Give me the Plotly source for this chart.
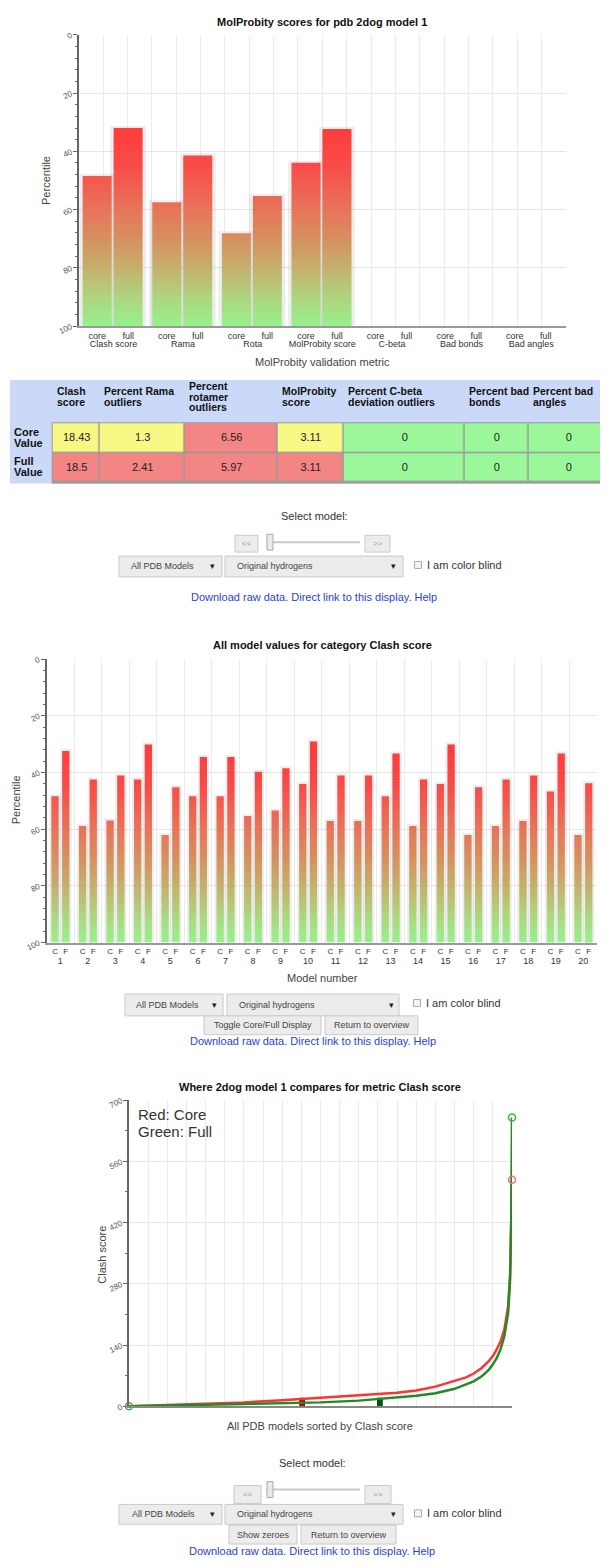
import plotly.graph_objects as go

# The page body has an 8px margin, so the figure is 592x1552 and all layout
# positions below are given in screen pixels and shifted by that margin.
SW, SH = 608, 1568
M = 8
W, H = SW - 2 * M, SH - 2 * M
FONT = "Arial, 'Liberation Sans', sans-serif"


def px(x):
    return (x - M) / W


def py(y):
    return 1 - (y - M) / H


# ---------------- data ----------------
metric_names = ["Clash score", "Rama", "Rota", "MolProbity score", "C-beta", "Bad bonds", "Bad angles"]
core_pct = [48.5, 57.5, 68.1, 43.9, 100, 100, 100]
full_pct = [32.0, 41.4, 55.3, 32.3, 100, 100, 100]

models = [str(i) for i in range(1, 21)]
model_core_pct = [48.4, 58.9, 56.9, 42.5, 62.1, 48.4, 48.4, 55.4, 53.4, 44.1,
                  57.1, 57.1, 48.4, 58.9, 44.1, 62.1, 58.9, 57.1, 46.7, 62.1]
model_full_pct = [32.4, 42.5, 41.1, 30.1, 45.2, 34.5, 34.5, 39.7, 38.5, 29.1,
                  41.1, 41.1, 33.3, 42.5, 30.1, 45.2, 42.5, 41.1, 33.3, 43.8]

table_headers = ["Clash<br>score", "Percent Rama<br>outliers", "Percent<br>rotamer<br>outliers",
                 "MolProbity<br>score", "Percent C-beta<br>deviation outliers", "Percent bad<br>bonds",
                 "Percent bad<br>angles"]
row_labels = ["Core<br>Value", "Full<br>Value"]
core_values = ["18.43", "1.3", "6.56", "3.11", "0", "0", "0"]
full_values = ["18.5", "2.41", "5.97", "3.11", "0", "0", "0"]
core_status = [0, 0, 1, 0, 2, 2, 2]   # 0 = warning (yellow), 1 = bad (red), 2 = good (green)
full_status = [1, 1, 1, 1, 2, 2, 2]

sorted_pct = [0, 5, 10, 20, 30, 40, 50, 60, 65, 70, 75, 80, 85, 88, 90, 92, 94, 95, 96, 97, 98, 99, 99.5, 99.8, 100]
core_sorted = [0, 1.5, 3, 6, 9, 14, 19, 24, 28, 31, 36, 45, 58, 66, 75, 87, 104, 115, 130, 148, 175, 230, 300, 400, 518]
full_sorted = [0, 0.8, 1.5, 3, 5, 7, 9, 13, 17, 20, 24, 30, 40, 50, 57, 68, 84, 96, 110, 130, 160, 215, 290, 420, 660]
marker_pct = [45.2, 65.5]
marker_score = [18.43, 18.5]

# ---------------- styles ----------------
GRAD = [[0.0, "#ff3a3a"], [0.2143, "#f84c48"], [0.4286, "#e8745a"], [0.5714, "#d6905f"],
        [0.7143, "#c4b06c"], [0.8571, "#aed47e"], [1.0, "#96f28c"]]
YELLOW, RED, GREEN = "#f8f884", "#f48585", "#9af79a"
BLUE = "#c9d9f7"
# table geometry (pixels): column widths, header height, row height
col_widths = [43, 47, 85, 93, 66, 121, 64, 79]
header_h, row_h = 44, 30


def grad_segments(centers, vals, step=1.0):
    xs, bases, lens, cols = [], [], [], []
    for c, v in zip(centers, vals):
        t = v
        while t < 100 - 1e-9:
            b = min(t + step, 100)
            xs.append(c)
            bases.append(t)
            lens.append(min(b - t + 0.3, 100 - t))
            cols.append((t + b) / 2)
            t = b
    return xs, bases, lens, cols


def gradient_bars(centers, vals, width, xa, ya, shadow_extra):
    traces = []
    sc = [c for c, v in zip(centers, vals) if v < 100]
    sv = [v for v in vals if v < 100]
    traces.append(go.Bar(x=sc, base=[v - 0.7 for v in sv], y=[100 - v + 0.7 for v in sv],
                         width=width + shadow_extra,
                         marker=dict(color="rgba(0,0,0,0.07)", line=dict(width=0)),
                         xaxis=xa, yaxis=ya, hoverinfo="skip"))
    xs, bases, lens, cols = grad_segments(centers, vals)
    traces.append(go.Bar(x=xs, base=bases, y=lens, width=width,
                         marker=dict(color=cols, colorscale=GRAD, cmin=30, cmax=100, line=dict(width=0)),
                         xaxis=xa, yaxis=ya, hoverinfo="skip"))
    return traces


fig = go.Figure()

# ---------------- top chart ----------------
top_core_x = [2 * g + 0.53 for g in range(len(metric_names))]
top_full_x = [2 * g + 1.42 for g in range(len(metric_names))]
for t in gradient_bars(top_core_x + top_full_x, core_pct + full_pct, 0.83, "x", "y", 0.2):
    fig.add_trace(t)
fig.add_trace(go.Scatter(x=[1], y=[100], mode="markers", marker=dict(opacity=0), xaxis="x4", yaxis="y",
                         hoverinfo="skip"))

# ---------------- middle chart ----------------
mid_core_x = [2 * g + 0.62 for g in range(len(models))]
mid_full_x = [2 * g + 1.40 for g in range(len(models))]
for t in gradient_bars(mid_core_x + mid_full_x, model_core_pct + model_full_pct, 0.52, "x2", "y2", 0.3):
    fig.add_trace(t)
fig.add_trace(go.Scatter(x=[1], y=[100], mode="markers", marker=dict(opacity=0), xaxis="x5", yaxis="y2",
                         hoverinfo="skip"))

# ---------------- bottom chart ----------------
fig.add_trace(go.Scatter(x=sorted_pct, y=core_sorted, mode="lines", line=dict(color="#ff3333", width=2.5),
                         xaxis="x3", yaxis="y3", hoverinfo="skip"))
fig.add_trace(go.Scatter(x=sorted_pct, y=full_sorted, mode="lines", line=dict(color="#238a23", width=2.5),
                         xaxis="x3", yaxis="y3", hoverinfo="skip"))
fig.add_trace(go.Bar(x=marker_pct, y=marker_score, width=1.2,
                     marker=dict(color=["#e00000", "#006000"], line=dict(color="#222", width=1)),
                     xaxis="x3", yaxis="y3", hoverinfo="skip"))
fig.add_trace(go.Scatter(x=[sorted_pct[-1]], y=[core_sorted[-1]], mode="markers",
                         marker=dict(symbol="circle-open", size=7, color="#f07070", line=dict(width=1.5)),
                         xaxis="x3", yaxis="y3", cliponaxis=False, hoverinfo="skip"))
fig.add_trace(go.Scatter(x=[sorted_pct[0], sorted_pct[-1]], y=[full_sorted[0], full_sorted[-1]], mode="markers",
                         marker=dict(symbol="circle-open", size=7, color="#40b040", line=dict(width=1.5)),
                         xaxis="x3", yaxis="y3", cliponaxis=False, hoverinfo="skip"))

# ---------------- table (heatmap on its own axes, units = pixels) ----------------
col_edges = [0]
for w_ in col_widths:
    col_edges.append(col_edges[-1] + w_)
row_edges = [header_h, header_h + row_h, header_h + 2 * row_h]
fig.add_trace(go.Heatmap(
    x=col_edges[1:], y=row_edges, z=[core_status, full_status],
    text=[core_values, full_values], texttemplate="%{text}",
    textfont=dict(family=FONT, size=11, color="#222"),
    colorscale=[[0, YELLOW], [0.333, YELLOW], [0.333, RED], [0.667, RED], [0.667, GREEN], [1, GREEN]],
    zmin=0, zmax=2, showscale=False, xgap=1.5, ygap=1.5, xaxis="x6", yaxis="y6", hoverinfo="skip"))

table_w = SW - M - 9.7
table_top, table_bottom = 379, 379 + header_h + 2 * row_h + 1

# ---------------- axes ----------------
ytick_common = dict(ticks="outside", ticklen=4, tickcolor="#666", tickangle=-25,
                    tickfont=dict(family=FONT, size=8, color="#555"), showline=True, linecolor="#666",
                    linewidth=2, gridcolor="#e6e6e6", zeroline=False)
hidden = dict(showgrid=False, showticklabels=False, zeroline=False, showline=False, ticks="")

fig.update_layout(
    width=W, height=H, autosize=False, margin=dict(l=0, r=0, t=0, b=0),
    paper_bgcolor="white", plot_bgcolor="white", showlegend=False, barmode="overlay",
    font=dict(family=FONT),
    xaxis=dict(domain=[px(78.7), px(566)], range=[0, 14], anchor="y",
               tickmode="array", tickvals=top_core_x + top_full_x,
               ticktext=["core"] * 7 + ["full"] * 7, tickfont=dict(family=FONT, size=9, color="#333"),
               ticks="", showgrid=False, showline=True, linecolor="#999", linewidth=2, zeroline=False,
               minor=dict(tickmode="linear", tick0=0, dtick=0.7, showgrid=True, gridcolor="#ebebeb", ticks="")),
    xaxis4=dict(overlaying="x", anchor="y", range=[0, 14], tickmode="array",
                tickvals=[2 * g + 1 for g in range(7)], ticktext=metric_names,
                tickfont=dict(family=FONT, size=9, color="#333"), ticks="", ticklabelstandoff=11,
                showgrid=False, showline=False, zeroline=False, side="bottom"),
    yaxis=dict(domain=[py(325), py(31)], range=[100, 0], anchor="x", tickvals=[0, 20, 40, 60, 80, 100],
               minor=dict(dtick=4, ticks="outside", ticklen=2, tickcolor="#666", showgrid=False),
               **ytick_common),
    xaxis2=dict(domain=[px(46.5), px(597)], range=[0, 40], anchor="y2",
                tickmode="array", tickvals=mid_core_x + mid_full_x,
                ticktext=["C"] * 20 + ["F"] * 20, tickfont=dict(family=FONT, size=8, color="#333"),
                ticks="", showgrid=False, showline=True, linecolor="#999", linewidth=2, zeroline=False,
                minor=dict(tickmode="linear", tick0=0, dtick=2, showgrid=True, gridcolor="#ebebeb", ticks="")),
    xaxis5=dict(overlaying="x2", anchor="y2", range=[0, 40], tickmode="array",
                tickvals=[2 * g + 1 for g in range(20)], ticktext=models,
                tickfont=dict(family=FONT, size=9, color="#333"), ticks="", ticklabelstandoff=11,
                showgrid=False, showline=False, zeroline=False, side="bottom"),
    yaxis2=dict(domain=[py(947), py(661)], range=[100, 0], anchor="x2", tickvals=[0, 20, 40, 60, 80, 100],
                minor=dict(dtick=4, ticks="outside", ticklen=2, tickcolor="#666", showgrid=False),
                **ytick_common),
    xaxis3=dict(domain=[px(129), px(512)], range=[0, 100], anchor="y3", showticklabels=False, ticks="",
                dtick=5, showgrid=True, gridcolor="#ebebeb", showline=True, linecolor="#888", linewidth=2,
                zeroline=False),
    yaxis3=dict(domain=[py(1415), py(1106)], range=[0, 700], anchor="x3", tickvals=[0, 140, 280, 420, 560, 700],
                minor=dict(dtick=70, ticks="outside", ticklen=2, tickcolor="#666", showgrid=False),
                **ytick_common),
    xaxis6=dict(domain=[px(9.7), 1.0], range=[0, table_w], anchor="y6", **hidden),
    yaxis6=dict(domain=[py(table_bottom), py(table_top)], range=[table_bottom - table_top, 0], anchor="x6",
                **hidden),
)

# ---------------- annotations & shapes ----------------
ann = []
shapes = []

# table background (blue) and cell borders (grey) behind the heatmap
shapes.append(dict(type="rect", xref="x6", yref="y6", x0=0, x1=col_edges[-1], y0=0,
                   y1=row_edges[-1] + 1, fillcolor=BLUE, line=dict(width=0), layer="below"))
shapes.append(dict(type="rect", xref="x6", yref="y6", x0=col_edges[1] - 1, x1=col_edges[-1],
                   y0=row_edges[0] - 1, y1=row_edges[-1] + 1, fillcolor="#9a9a9a", line=dict(width=0),
                   layer="below"))


def multiline(x, yc, s, pitch, size, color, bold, xref, yref, xanchor="left"):
    lines = s.split("<br>")
    n = len(lines)
    for i, ln in enumerate(lines):
        yy = yc + (i - (n - 1) / 2) * pitch
        ann.append(dict(xref=xref, yref=yref, x=x, y=yy, text=f"<b>{ln}</b>" if bold else ln,
                        showarrow=False, xanchor=xanchor, yanchor="middle",
                        font=dict(family=FONT, size=size, color=color)))


for i, h in enumerate(table_headers):
    multiline(col_edges[i + 1] + 2, 17, h, 10.5, 10.5, "#111", True, "x6", "y6")
for r, lab in enumerate(row_labels):
    multiline(2, header_h + row_h * r + row_h / 2 - 1, lab, 11, 11, "#111", True, "x6", "y6")


def text(x, y, s, size=11, color="#333", xanchor="center", angle=0):
    ann.append(dict(xref="paper", yref="paper", x=px(x), y=py(y), text=s, showarrow=False,
                    xanchor=xanchor, yanchor="middle", textangle=angle,
                    font=dict(family=FONT, size=size, color=color)))


def rect(x0, y0, x1, y1, fill="#ececec", line="#c9c9c9", lw=1):
    shapes.append(dict(type="rect", xref="paper", yref="paper", x0=px(x0), x1=px(x1), y0=py(y1), y1=py(y0),
                       fillcolor=fill, line=dict(color=line, width=lw), layer="above"))


def button(x0, y0, x1, y1, label, size=9, color="#444"):
    rect(x0, y0, x1, y1)
    text((x0 + x1) / 2, (y0 + y1) / 2, label, size=size, color=color)


def dropdown(x0, y0, x1, y1, label, tx, ax):
    rect(x0, y0, x1, y1)
    text(tx, (y0 + y1) / 2, label, size=9, color="#444", xanchor="left")
    text(ax, (y0 + y1) / 2, "▾", size=9, color="#222")


def checkbox(x, y, label):
    rect(x - 3.5, y - 3.5, x + 3.5, y + 3.5, fill="#f4f4f4", line="#aaaaaa")
    text(x + 7, y, label, size=11, color="#333", xanchor="left")


def slider(x0, x1, y, bx0, bx1, nx0, nx1, y0, y1):
    button(bx0, y0, bx1, y1, "&lt;&lt;", size=8, color="#999")
    shapes.append(dict(type="line", xref="paper", yref="paper", x0=px(x0), x1=px(x1), y0=py(y), y1=py(y),
                       line=dict(color="#c8c8c8", width=2), layer="above"))
    rect(x0 + 1, y - 8, x0 + 7, y + 8, fill="#e9e9e9", line="#aaaaaa")
    button(nx0, y0, nx1, y1, "&gt;&gt;", size=8, color="#999")


LINK = "#2a3fd0"
link_text = "Download raw data. Direct link to this display. Help"

# titles
text(322, 18, "<b>MolProbity scores for pdb 2dog model 1</b>", size=11, color="#111")
text(46.5, 178, "Percentile", size=11, color="#444", angle=-90)
text(322, 361, "MolProbity validation metric", size=11, color="#444")

text(322, 647, "<b>All model values for category Clash score</b>", size=11, color="#111")
text(15.5, 803, "Percentile", size=11, color="#444", angle=-90)
text(322, 983, "Model number", size=11, color="#444")

text(320, 1093, "<b>Where 2dog model 1 compares for metric Clash score</b>", size=11, color="#111")
text(102, 1262, "Clash score", size=11, color="#444", angle=-90)
text(320, 1435, "All PDB models sorted by Clash score", size=11, color="#444")
text(136, 1121, "Red: Core", size=15, color="#333", xanchor="left")
text(136, 1138, "Green: Full", size=15, color="#333", xanchor="left")

# controls group 1
text(314, 517, "Select model:", size=11, color="#333")
slider(266, 360, 543, 235, 258, 365, 390, 536, 553)
dropdown(119, 557, 222, 578, "All PDB Models", 129, 212)
dropdown(225, 557, 403, 578, "Original hydrogens", 235, 394)
checkbox(418, 566, "I am color blind")
text(314, 598, link_text, size=11, color=LINK)

# controls group 2
dropdown(125, 999, 223, 1021, "All PDB Models", 134, 214)
dropdown(227, 999, 399, 1021, "Original hydrogens", 237, 391)
checkbox(417, 1008, "I am color blind")
button(204, 1021, 321, 1040, "Toggle Core/Full Display")
button(325, 1021, 418, 1040, "Return to overview")
text(313, 1046, link_text, size=11, color=LINK)

# controls group 3
text(312, 1472, "Select model:", size=11, color="#333")
slider(266, 360, 1499, 234, 261, 365, 391, 1495, 1513)
dropdown(119, 1514, 222, 1534, "All PDB Models", 130, 212)
dropdown(225, 1514, 403, 1534, "Original hydrogens", 235, 394)
checkbox(418, 1523, "I am color blind")
button(229, 1535, 297, 1554, "Show zeroes")
button(301, 1535, 396, 1554, "Return to overview")
text(312, 1561, link_text, size=11, color=LINK)

fig.update_layout(annotations=ann, shapes=shapes)

fig.write_html("out.html", config={"displayModeBar": False})
